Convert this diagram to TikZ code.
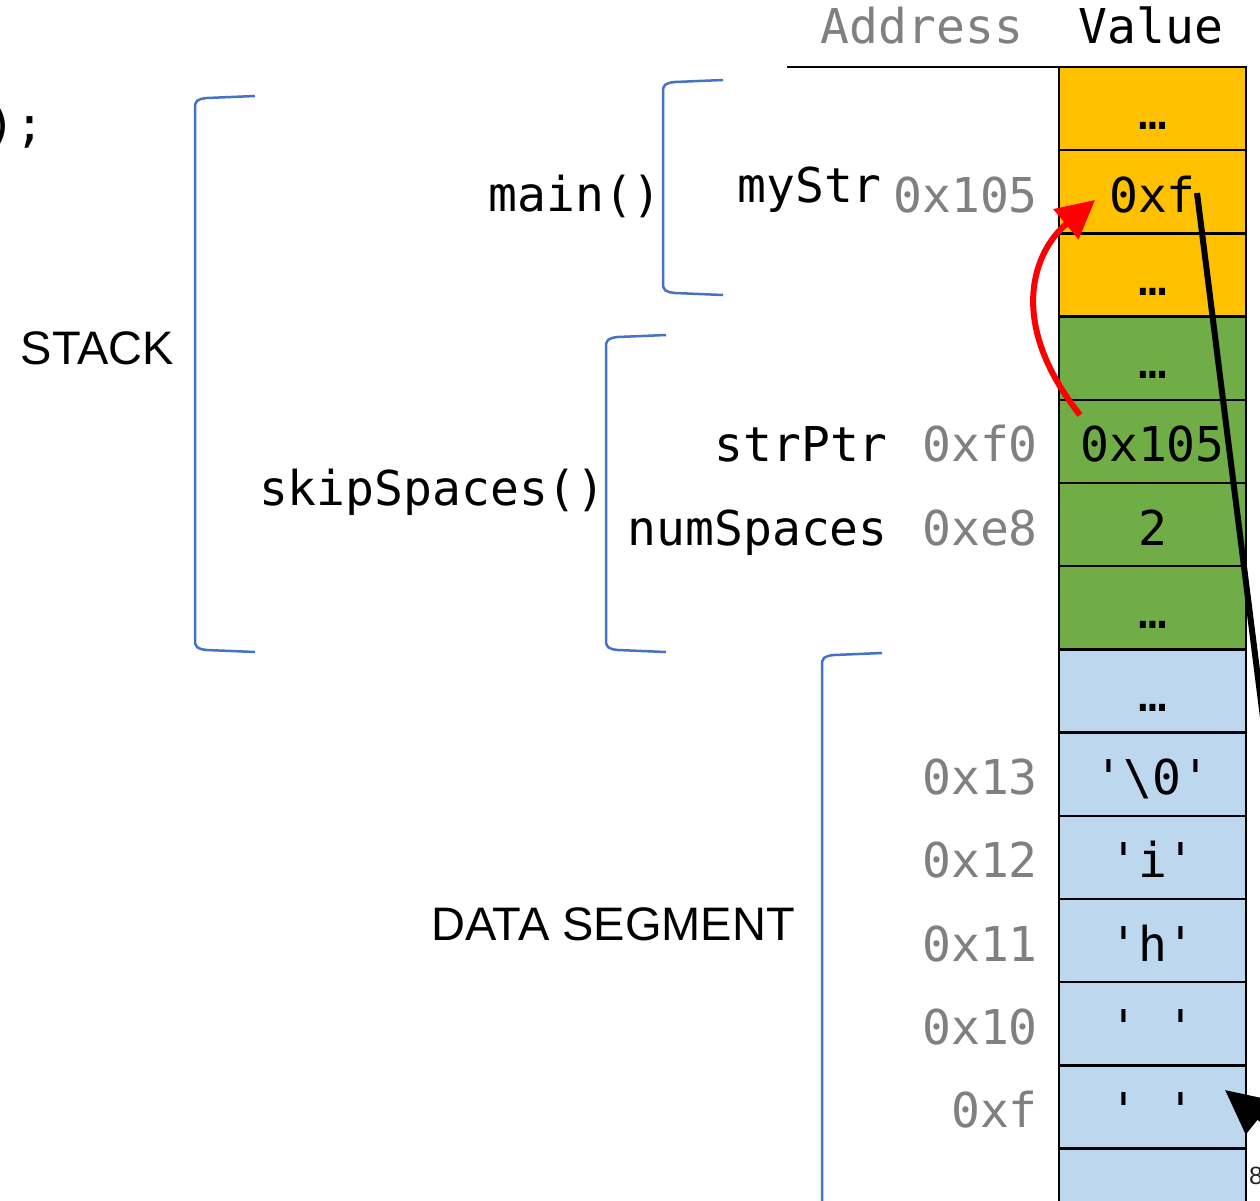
\documentclass[tikz,border=0pt]{standalone}
\usepackage{fontspec}
\usetikzlibrary{arrows.meta}
\newfontfamily\codefont{DejaVu Sans Mono}
\newfontfamily\labfont{Liberation Sans}
\definecolor{stackorange}{HTML}{FFC000}
\definecolor{stackgreen}{HTML}{70AD47}
\definecolor{datablue}{HTML}{BDD7EE}
\definecolor{bracketblue}{HTML}{4472C4}
\definecolor{addrgray}{HTML}{808080}
\newcommand{\sq}{\textquotesingle}
\begin{document}
\begin{tikzpicture}[x=1pt,y=-1pt,
  cell/.style={draw=black, line width=2.5pt, minimum width=187pt, minimum height=83.2pt,
    inner sep=0pt, text height=41pt, text depth=0pt,
    font=\codefont\fontsize{48}{48}\selectfont},
  orangecell/.style={cell, fill=stackorange},
  greencell/.style={cell, fill=stackgreen},
  bluecell/.style={cell, fill=datablue},
  addr/.style={anchor=base east, inner sep=0pt, text=addrgray,
    font=\codefont\fontsize{48}{48}\selectfont},
  codelabel/.style={anchor=base east, inner sep=0pt, text=black,
    font=\codefont\fontsize{48}{48}\selectfont},
  seglabel/.style={anchor=base, inner sep=0pt, text=black,
    font=\labfont\fontsize{47}{47}\selectfont},
  bracket/.style={draw=bracketblue, line width=2.5pt},
  redarrow/.style={draw=red, line width=6pt, -{Triangle[length=38pt,width=38pt]}},
  blackarrow/.style={draw=black, line width=6pt, -{Triangle[length=44pt,width=42pt]}}
]
\useasboundingbox (0,0) rectangle (1260,1200);
\clip (0,0) rectangle (1260,1200);
\fill[white] (0,0) rectangle (1260,1200);

% partial code text at top left
\node[anchor=base west, inner sep=0pt, font=\codefont\fontsize{48}{48}\selectfont] (code) at (-14,141) {);};

% header
\node[anchor=base, inner sep=0pt, text=addrgray, font=\codefont\fontsize{48}{48}\selectfont] (haddr) at (922,43) {Address};
\node[anchor=base, inner sep=0pt, font=\codefont\fontsize{48}{48}\selectfont] (hval) at (1151,43) {Value};
\coordinate (hl) at (787,67);
\coordinate (hr) at (1059,67);
\draw[line width=2.5pt] (hl) -- (hr);

% cells
\node[orangecell] (c1) at (1152.5,108.6) {…};
\node[orangecell] (c2) at (1152.5,191.8) {0xf};
\node[orangecell] (c3) at (1152.5,275.0) {…};
\node[greencell] (c4) at (1152.5,358.2) {…};
\node[greencell] (c5) at (1152.5,441.4) {0x105};
\node[greencell] (c6) at (1152.5,524.6) {2};
\node[greencell] (c7) at (1152.5,607.8) {…};
\node[bluecell] (c8) at (1152.5,691.0) {…};
\node[bluecell] (c9) at (1152.5,774.2) {\sq\textbackslash0\sq};
\node[bluecell] (c10) at (1152.5,857.4) {\sq i\sq};
\node[bluecell] (c11) at (1152.5,940.6) {\sq h\sq};
\node[bluecell] (c12) at (1152.5,1023.8) {\sq\ \sq};
\node[bluecell] (c13) at (1152.5,1107.0) {\sq\ \sq};
\node[bluecell] (c14) at (1152.5,1190.2) {};

% addresses
\node[addr] (a2) at (1038,212.3) {0x105};
\node[addr] (a5) at (1038,461.9) {0xf0};
\node[addr] (a6) at (1038,545.1) {0xe8};
\node[addr] (a9) at (1038,794.7) {0x13};
\node[addr] (a10) at (1038,877.9) {0x12};
\node[addr] (a11) at (1038,961.1) {0x11};
\node[addr] (a12) at (1038,1044.3) {0x10};
\node[addr] (a13) at (1038,1127.5) {0xf};

% variable names and frames
\node[codelabel] (mystr) at (882,202) {myStr};
\node[codelabel] (strptr) at (888,461.9) {strPtr};
\node[codelabel] (numsp) at (888,545.1) {numSpaces};
\node[codelabel] (mainf) at (662,211) {main()};
\node[codelabel] (skipf) at (606,505) {skipSpaces()};

% segment labels
\node[seglabel] (stack) at (97.5,364) {STACK};
\node[seglabel] (data) at (613,940) {DATA SEGMENT};

% brackets
\draw[bracket] (255,96) -- (207,98) .. controls (197,99) and (195,101) .. (195,108)
  -- (195,640) .. controls (195,647) and (197,649) .. (207,650) -- (255,652);
\draw[bracket] (723,80) -- (675,82) .. controls (665,83) and (663,85) .. (663,92)
  -- (663,283) .. controls (663,290) and (665,292) .. (675,293) -- (723,295);
\draw[bracket] (666,335) -- (618,337) .. controls (608,338) and (606,340) .. (606,347)
  -- (606,640) .. controls (606,647) and (608,649) .. (618,650) -- (666,652);
\draw[bracket] (882,653) -- (834,655) .. controls (824,656) and (822,658) .. (822,665)
  -- (822,1220);

% small text at bottom right
\node[anchor=base west, inner sep=0pt, text=black!85, font=\labfont\fontsize{25}{25}\selectfont] (eight) at (1249,1184) {8};

% arrows
\coordinate (rstart) at (1080,415);
\coordinate (rtip) at (1095,200);
\draw[redarrow] (rstart) .. controls (1005,320) and (1035,250) .. (rtip);

\coordinate (bstart) at (1197,193);
\coordinate (bbend) at (1301,1020);
\coordinate (btip) at (1225,1090);
\draw[blackarrow] (bstart) -- (bbend) .. controls (1325,1170) and (1275,1130) .. (btip);
\end{tikzpicture}
\end{document}
